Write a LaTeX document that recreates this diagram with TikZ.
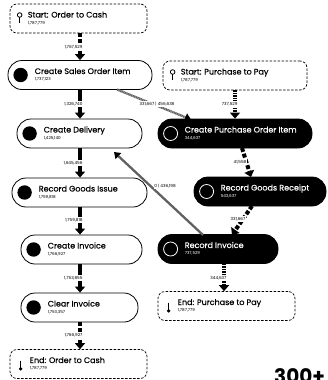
\documentclass[tikz,border=0pt]{standalone}
\usepackage{fontspec}
\setmainfont{Poppins}
\newfontfamily\ttlfont{Poppins}[FakeBold=0.35]
\usetikzlibrary{arrows.meta,calc}
\begin{document}
\begin{tikzpicture}[x=1pt,y=-1pt,
 pbox/.style={rectangle, minimum height=29pt, inner sep=0pt, line width=0.8pt},
 wbox/.style={pbox, draw=black, fill=white, rounded corners=14pt},
 bbox/.style={pbox, draw=black, fill=black, rounded corners=14pt},
 dbox/.style={pbox, draw=black, dash pattern=on 2.5pt off 1.5pt, line width=0.7pt, rounded corners=7pt},
 ttl/.style={font=\ttlfont\fontsize{8}{9}\selectfont, inner sep=0pt, anchor=base west},
 numtxt/.style={font=\fontsize{4.1}{5}\selectfont, inner sep=0pt, anchor=base west},
 flow/.style={line width=4pt, -{Triangle[width=10pt,length=6pt]}},
 flowd/.style={flow, dash pattern=on 4pt off 2pt},
 flowf/.style={flow, dash pattern=on 1.5pt off 1pt},
 gflow/.style={line width=2.3pt, draw=black!62, -{Triangle[width=8pt,length=6pt,color=black]}},
 elbl/.style={font=\fontsize{4.2}{5}\selectfont, fill=white, inner sep=0.8pt}
]
\useasboundingbox (0,0) rectangle (327,380);

% ---------- nodes ----------
\node[dbox, minimum width=137pt] (so2c) at (78.5,18.5) {};
\node[wbox, minimum width=144pt] (csoi) at (80,75) {};
\node[dbox, minimum width=144pt] (sp2p) at (235,75.5) {};
\node[wbox, minimum width=125pt] (cd) at (79.5,133.5) {};
\node[bbox, minimum width=154pt] (cpoi) at (235,133.5) {};
\node[wbox, minimum width=135pt] (rgi) at (79.5,192.5) {};
\node[bbox, minimum width=132pt] (rgr) at (260,191.5) {};
\node[wbox, minimum width=121pt] (ci) at (81.5,249.5) {};
\node[bbox, minimum width=120pt] (ri) at (218,249) {};
\node[wbox, minimum width=117pt] (cli) at (79.5,307.5) {};
\node[dbox, minimum width=137pt] (ep2p) at (226.5,306) {};
\node[dbox, minimum width=137pt] (eo2c) at (78.5,364) {};

% ---------- node contents ----------
% start nodes (lollipop icon)
\foreach \n/\t in {so2c/{Start: Order to Cash}, sp2p/{Start: Purchase to Pay}}{
  \draw[line width=0.8pt] ($(\n.west)+(10,-3.5)$) circle[radius=2.3pt];
  \draw[line width=0.8pt] ($(\n.west)+(10,-1.2)$) -- ($(\n.west)+(10,4.8)$);
  \node[ttl] at ($(\n.west)+(18,-1)$) {\t};
  \node[numtxt] at ($(\n.west)+(18,5.5)$) {1,787,779};
}
% end nodes (thermometer icon)
\foreach \n/\t in {eo2c/{End: Order to Cash}, ep2p/{End: Purchase to Pay}}{
  \draw[line width=0.8pt] ($(\n.west)+(11,-3.5)$) -- ($(\n.west)+(11,4.5)$);
  \fill ($(\n.west)+(11,4.8)$) circle[radius=1.9pt];
  \node[ttl] at ($(\n.west)+(20,-1)$) {\t};
  \node[numtxt] at ($(\n.west)+(20,5.5)$) {1,787,779};
}
% white activity nodes
\foreach \n/\t/\v in {csoi/{Create Sales Order Item}/{1,737,123}, cd/{Create Delivery}/{1,425,140},
  rgi/{Record Goods Issue}/{1,759,818}, ci/{Create Invoice}/{1,766,927}, cli/{Clear Invoice}/{1,753,357}}{
  \fill ($(\n.west)+(13,0)$) circle[radius=7.2pt];
  \node[ttl] at ($(\n.west)+(27,-1)$) {\t};
  \node[numtxt] at ($(\n.west)+(27,5.5)$) {\v};
}
% black activity nodes
\foreach \n/\t/\v in {cpoi/{Create Purchase Order Item}/{344,637}, rgr/{Record Goods Receipt}/{543,637},
  ri/{Record Invoice}/{737,529}}{
  \draw[white, line width=0.8pt] ($(\n.west)+(13,0)$) circle[radius=7pt];
  \node[ttl, text=white] at ($(\n.west)+(27,-1)$) {\t};
  \node[numtxt, text=white] at ($(\n.west)+(27,5.5)$) {\v};
}

% ---------- edges ----------
\draw[flowd] (so2c.south -| 80,0) -- (csoi.north -| 80,0);
\draw[flow]  (csoi.south -| 80,0) -- (cd.north -| 80,0);
\draw[flow]  (cd.south -| 80,0) -- (rgi.north -| 80,0);
\draw[flow]  (rgi.south -| 80,0) -- (ci.north -| 80,0);
\draw[flow]  (ci.south -| 80,0) -- (cli.north -| 80,0);
\draw[flowd] (cli.south -| 80,0) -- (eo2c.north -| 80,0);

\draw[flowf] (sp2p.south -| 235,0) -- (cpoi.north -| 235,0);
\coordinate (cpoib) at (242,148);
\coordinate (rgrt) at (251,177);
\draw[flowd] (cpoib) -- (rgrt);
\coordinate (rgrb) at (252,206);
\coordinate (rit) at (232,235);
\draw[flowd] (rgrb) -- (rit);
\draw[flowf] (ri.south -| 224,0) -- (ep2p.north -| 224,0);

\coordinate (csoib) at (117,89.5);
\coordinate (cpoitl) at (191,119.5);
\draw[gflow, dash pattern=on 1.2pt off 0.5pt] (csoib) -- (cpoitl);
\coordinate (rita) at (203,235);
\coordinate (cdbr) at (114,152);
\draw[gflow] (rita) -- (cdbr);

% ---------- edge labels ----------
\node[elbl, anchor=east] at (83.5,47) {1,767,529\hspace{5pt}};
\node[elbl, anchor=east] at (83.5,104) {1,326,740\hspace{5pt}};
\node[elbl, anchor=east] at (83.5,163) {1,645,456\hspace{5pt}};
\node[elbl, anchor=east] at (83.5,220) {1,759,818\hspace{5pt}};
\node[elbl, anchor=east] at (83.5,278) {1,753,855\hspace{5pt}};
\node[elbl, anchor=east] at (83.5,335) {1,766,927\hspace{5pt}};
\node[elbl, anchor=east] at (238.5,104) {737,529\hspace{4pt}};
\node[elbl] at (240,162) {41,558};
\node[elbl] at (238,219) {331,667};
\node[elbl, anchor=east] at (227.5,278) {344,637\hspace{4pt}};
\node[elbl] at (157,104) {331,667 | 456,638};
\node[elbl] at (165,186) {0 | 436,198};

% ---------- cut-off corner text ----------
\node[font=\bfseries\fontsize{20}{20}\selectfont, anchor=north west, inner sep=0pt] (big) at (274,368.5) {300+};
\end{tikzpicture}
\end{document}
